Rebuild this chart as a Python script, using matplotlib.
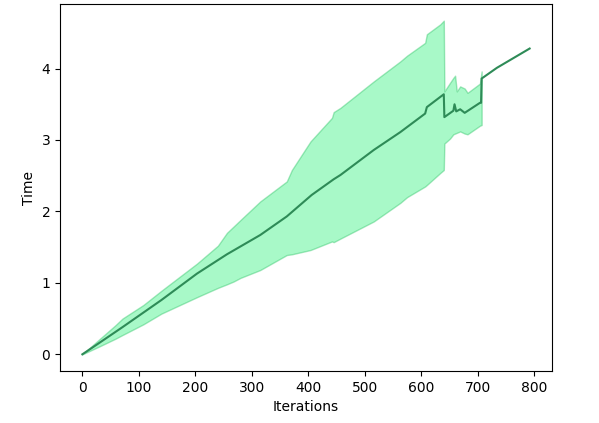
import numpy as np
import matplotlib
matplotlib.use('Agg')
import matplotlib.pyplot as plt

# mean time per iteration
it_mean = [0, 30, 71, 140, 203, 256, 315, 362, 406, 445, 457, 516, 563, 607, 610,
           640, 641, 657, 659, 662, 669, 677, 704, 706, 707, 725, 734, 792]
t_mean = [0, 0.16, 0.38, 0.76, 1.13, 1.40, 1.67, 1.93, 2.23, 2.45, 2.51, 2.86, 3.11, 3.37, 3.46,
          3.64, 3.32, 3.41, 3.50, 3.40, 3.43, 3.38, 3.52, 3.52, 3.86, 3.96, 4.01, 4.28]

# spread (upper / lower) over runs
it_band = [0, 30, 59, 71, 108, 140, 203, 240, 256, 268, 280, 315, 362, 371, 404, 442, 445, 457,
           516, 563, 575, 607, 610, 634, 640, 641, 651, 657, 660, 663, 669, 677, 682, 704, 707]
t_upper = [0, 0.21, 0.41, 0.50, 0.69, 0.89, 1.27, 1.52, 1.70, 1.79, 1.88, 2.14, 2.42, 2.58, 2.98, 3.31, 3.39, 3.45,
           3.82, 4.10, 4.18, 4.36, 4.48, 4.62, 4.67, 3.68, 3.80, 3.87, 3.90, 3.68, 3.75, 3.72, 3.66, 3.79, 3.96]
t_lower = [0, 0.11, 0.22, 0.27, 0.42, 0.57, 0.80, 0.93, 0.98, 1.02, 1.07, 1.18, 1.39, 1.40, 1.46, 1.58, 1.57, 1.62,
           1.86, 2.12, 2.20, 2.35, 2.37, 2.54, 2.58, 2.95, 3.02, 3.08, 3.09, 3.10, 3.12, 3.09, 3.08, 3.20, 3.21]

fig, ax = plt.subplots(figsize=(5.99, 4.23), dpi=100)
fig.subplots_adjust(left=60/599, right=552/599, top=1-4/423, bottom=1-371/423)

ax.fill_between(it_band, t_lower, t_upper, facecolor='#26f276', edgecolor='#26c060',
                linewidth=1, alpha=0.4)
ax.plot(it_mean, t_mean, color='seagreen', lw=1.5)

ax.set_xlabel('Iterations')
ax.set_ylabel('Time')

plt.savefig('out.png', dpi=100)
